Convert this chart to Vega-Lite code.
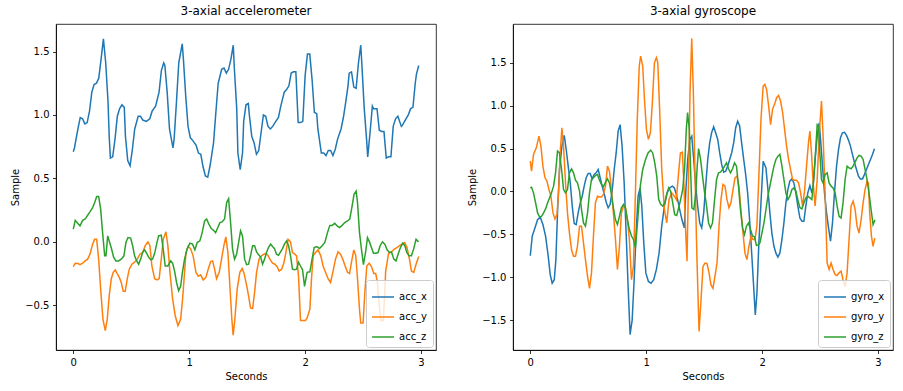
{
"$schema": "https://vega.github.io/schema/vega-lite/v6.json",
"background": "white",
"padding": {"left": 10, "top": 4, "right": 5, "bottom": 5},
"bounds": "flush",
"spacing": 77,
"config": {
  "font": "DejaVu Sans",
  "view": {"stroke": "#000", "strokeWidth": 0.8},
  "axis": {"grid": false, "domainColor": "#000", "domainWidth": 0.8, "tickColor": "#000", "tickWidth": 0.8, "tickSize": 3.5, "labelPadding": 3.5, "labelColor": "#000", "labelFontSize": 10, "titleColor": "#000", "titleFontSize": 10, "titleFontWeight": "normal", "titlePadding": 4},
  "title": {"fontSize": 12, "fontWeight": "normal", "color": "#000", "offset": 6},
  "legend": {"orient": "bottom-right", "offset": 3, "fillColor": "rgba(255,255,255,0.8)", "strokeColor": "#cccccc", "cornerRadius": 3, "padding": 5, "symbolType": "stroke", "symbolStrokeWidth": 1.5, "symbolSize": 484, "labelFontSize": 10, "labelColor": "#000", "rowPadding": 3}
},
"resolve": {"scale": {"color": "independent", "x": "independent", "y": "independent"}},
"hconcat": [
{
  "title": "3-axial accelerometer",
  "width": 380, "height": 326,
  "data": {"values": [
{"t":0,"v":0.71,"s":"acc_x"},{"t":0.01,"v":0.74,"s":"acc_x"},{"t":0.04,"v":0.89,"s":"acc_x"},{"t":0.06,"v":0.98,"s":"acc_x"},{"t":0.08,"v":0.97,"s":"acc_x"},{"t":0.1,"v":0.93,"s":"acc_x"},{"t":0.12,"v":0.94,"s":"acc_x"},{"t":0.14,"v":1.03,"s":"acc_x"},{"t":0.16,"v":1.18,"s":"acc_x"},{"t":0.18,"v":1.24,"s":"acc_x"},{"t":0.2,"v":1.25,"s":"acc_x"},{"t":0.22,"v":1.29,"s":"acc_x"},{"t":0.24,"v":1.44,"s":"acc_x"},{"t":0.26,"v":1.6,"s":"acc_x"},{"t":0.28,"v":1.41,"s":"acc_x"},{"t":0.3,"v":1.1,"s":"acc_x"},{"t":0.31,"v":0.83,"s":"acc_x"},{"t":0.32,"v":0.66,"s":"acc_x"},{"t":0.34,"v":0.67,"s":"acc_x"},{"t":0.36,"v":0.81,"s":"acc_x"},{"t":0.38,"v":0.99,"s":"acc_x"},{"t":0.4,"v":1.05,"s":"acc_x"},{"t":0.42,"v":1.08,"s":"acc_x"},{"t":0.44,"v":1.06,"s":"acc_x"},{"t":0.45,"v":0.83,"s":"acc_x"},{"t":0.47,"v":0.64,"s":"acc_x"},{"t":0.49,"v":0.6,"s":"acc_x"},{"t":0.51,"v":0.73,"s":"acc_x"},{"t":0.53,"v":0.89,"s":"acc_x"},{"t":0.56,"v":0.99,"s":"acc_x"},{"t":0.58,"v":0.99,"s":"acc_x"},{"t":0.6,"v":0.96,"s":"acc_x"},{"t":0.63,"v":0.95,"s":"acc_x"},{"t":0.66,"v":0.97,"s":"acc_x"},{"t":0.68,"v":1.03,"s":"acc_x"},{"t":0.71,"v":1.07,"s":"acc_x"},{"t":0.74,"v":1.18,"s":"acc_x"},{"t":0.76,"v":1.35,"s":"acc_x"},{"t":0.78,"v":1.41,"s":"acc_x"},{"t":0.79,"v":1.39,"s":"acc_x"},{"t":0.81,"v":1.18,"s":"acc_x"},{"t":0.83,"v":0.89,"s":"acc_x"},{"t":0.86,"v":0.74,"s":"acc_x"},{"t":0.87,"v":0.81,"s":"acc_x"},{"t":0.89,"v":1.1,"s":"acc_x"},{"t":0.91,"v":1.41,"s":"acc_x"},{"t":0.94,"v":1.56,"s":"acc_x"},{"t":0.95,"v":1.44,"s":"acc_x"},{"t":0.97,"v":1.15,"s":"acc_x"},{"t":0.99,"v":0.91,"s":"acc_x"},{"t":1.01,"v":0.82,"s":"acc_x"},{"t":1.03,"v":0.8,"s":"acc_x"},{"t":1.06,"v":0.76,"s":"acc_x"},{"t":1.08,"v":0.7,"s":"acc_x"},{"t":1.1,"v":0.69,"s":"acc_x"},{"t":1.12,"v":0.59,"s":"acc_x"},{"t":1.14,"v":0.52,"s":"acc_x"},{"t":1.16,"v":0.51,"s":"acc_x"},{"t":1.18,"v":0.6,"s":"acc_x"},{"t":1.21,"v":0.78,"s":"acc_x"},{"t":1.23,"v":1.02,"s":"acc_x"},{"t":1.25,"v":1.25,"s":"acc_x"},{"t":1.28,"v":1.36,"s":"acc_x"},{"t":1.3,"v":1.37,"s":"acc_x"},{"t":1.32,"v":1.33,"s":"acc_x"},{"t":1.34,"v":1.36,"s":"acc_x"},{"t":1.36,"v":1.44,"s":"acc_x"},{"t":1.38,"v":1.55,"s":"acc_x"},{"t":1.39,"v":1.36,"s":"acc_x"},{"t":1.41,"v":1.05,"s":"acc_x"},{"t":1.42,"v":0.7,"s":"acc_x"},{"t":1.44,"v":0.57,"s":"acc_x"},{"t":1.46,"v":0.7,"s":"acc_x"},{"t":1.47,"v":0.95,"s":"acc_x"},{"t":1.49,"v":1.08,"s":"acc_x"},{"t":1.51,"v":1.09,"s":"acc_x"},{"t":1.52,"v":0.99,"s":"acc_x"},{"t":1.54,"v":0.83,"s":"acc_x"},{"t":1.56,"v":0.78,"s":"acc_x"},{"t":1.58,"v":0.69,"s":"acc_x"},{"t":1.6,"v":0.72,"s":"acc_x"},{"t":1.62,"v":0.86,"s":"acc_x"},{"t":1.64,"v":1.0,"s":"acc_x"},{"t":1.66,"v":0.99,"s":"acc_x"},{"t":1.68,"v":0.91,"s":"acc_x"},{"t":1.7,"v":0.89,"s":"acc_x"},{"t":1.72,"v":0.91,"s":"acc_x"},{"t":1.74,"v":0.94,"s":"acc_x"},{"t":1.77,"v":0.98,"s":"acc_x"},{"t":1.79,"v":1.07,"s":"acc_x"},{"t":1.82,"v":1.18,"s":"acc_x"},{"t":1.84,"v":1.2,"s":"acc_x"},{"t":1.86,"v":1.23,"s":"acc_x"},{"t":1.88,"v":1.33,"s":"acc_x"},{"t":1.9,"v":1.34,"s":"acc_x"},{"t":1.92,"v":1.34,"s":"acc_x"},{"t":1.94,"v":0.94,"s":"acc_x"},{"t":1.96,"v":0.94,"s":"acc_x"},{"t":1.98,"v":0.95,"s":"acc_x"},{"t":2.0,"v":1.31,"s":"acc_x"},{"t":2.02,"v":1.48,"s":"acc_x"},{"t":2.04,"v":1.48,"s":"acc_x"},{"t":2.06,"v":1.28,"s":"acc_x"},{"t":2.08,"v":1.02,"s":"acc_x"},{"t":2.1,"v":1.01,"s":"acc_x"},{"t":2.11,"v":0.89,"s":"acc_x"},{"t":2.14,"v":0.7,"s":"acc_x"},{"t":2.16,"v":0.7,"s":"acc_x"},{"t":2.18,"v":0.68,"s":"acc_x"},{"t":2.2,"v":0.72,"s":"acc_x"},{"t":2.22,"v":0.72,"s":"acc_x"},{"t":2.24,"v":0.68,"s":"acc_x"},{"t":2.26,"v":0.73,"s":"acc_x"},{"t":2.28,"v":0.81,"s":"acc_x"},{"t":2.31,"v":0.89,"s":"acc_x"},{"t":2.33,"v":0.98,"s":"acc_x"},{"t":2.35,"v":1.1,"s":"acc_x"},{"t":2.37,"v":1.23,"s":"acc_x"},{"t":2.38,"v":1.33,"s":"acc_x"},{"t":2.4,"v":1.34,"s":"acc_x"},{"t":2.42,"v":1.22,"s":"acc_x"},{"t":2.44,"v":1.21,"s":"acc_x"},{"t":2.46,"v":1.41,"s":"acc_x"},{"t":2.48,"v":1.55,"s":"acc_x"},{"t":2.49,"v":1.39,"s":"acc_x"},{"t":2.51,"v":1.05,"s":"acc_x"},{"t":2.53,"v":0.81,"s":"acc_x"},{"t":2.54,"v":0.67,"s":"acc_x"},{"t":2.56,"v":0.86,"s":"acc_x"},{"t":2.58,"v":1.07,"s":"acc_x"},{"t":2.59,"v":1.05,"s":"acc_x"},{"t":2.62,"v":1.05,"s":"acc_x"},{"t":2.64,"v":0.88,"s":"acc_x"},{"t":2.66,"v":0.87,"s":"acc_x"},{"t":2.68,"v":0.87,"s":"acc_x"},{"t":2.7,"v":0.66,"s":"acc_x"},{"t":2.72,"v":0.67,"s":"acc_x"},{"t":2.74,"v":0.67,"s":"acc_x"},{"t":2.76,"v":0.91,"s":"acc_x"},{"t":2.78,"v":0.97,"s":"acc_x"},{"t":2.8,"v":0.99,"s":"acc_x"},{"t":2.83,"v":0.91,"s":"acc_x"},{"t":2.84,"v":0.92,"s":"acc_x"},{"t":2.87,"v":0.97,"s":"acc_x"},{"t":2.89,"v":1.0,"s":"acc_x"},{"t":2.91,"v":1.05,"s":"acc_x"},{"t":2.93,"v":1.06,"s":"acc_x"},{"t":2.95,"v":1.25,"s":"acc_x"},{"t":2.96,"v":1.32,"s":"acc_x"},{"t":2.98,"v":1.39,"s":"acc_x"},
{"t":0,"v":-0.195,"s":"acc_y"},{"t":0.015,"v":-0.17,"s":"acc_y"},{"t":0.035,"v":-0.168,"s":"acc_y"},{"t":0.058,"v":-0.18,"s":"acc_y"},{"t":0.081,"v":-0.168,"s":"acc_y"},{"t":0.103,"v":-0.15,"s":"acc_y"},{"t":0.124,"v":-0.136,"s":"acc_y"},{"t":0.144,"v":-0.097,"s":"acc_y"},{"t":0.167,"v":-0.018,"s":"acc_y"},{"t":0.184,"v":0.02,"s":"acc_y"},{"t":0.202,"v":0.02,"s":"acc_y"},{"t":0.219,"v":-0.136,"s":"acc_y"},{"t":0.236,"v":-0.37,"s":"acc_y"},{"t":0.256,"v":-0.61,"s":"acc_y"},{"t":0.276,"v":-0.7,"s":"acc_y"},{"t":0.293,"v":-0.61,"s":"acc_y"},{"t":0.31,"v":-0.425,"s":"acc_y"},{"t":0.328,"v":-0.29,"s":"acc_y"},{"t":0.345,"v":-0.24,"s":"acc_y"},{"t":0.362,"v":-0.22,"s":"acc_y"},{"t":0.379,"v":-0.25,"s":"acc_y"},{"t":0.397,"v":-0.28,"s":"acc_y"},{"t":0.414,"v":-0.32,"s":"acc_y"},{"t":0.431,"v":-0.39,"s":"acc_y"},{"t":0.448,"v":-0.39,"s":"acc_y"},{"t":0.466,"v":-0.29,"s":"acc_y"},{"t":0.483,"v":-0.215,"s":"acc_y"},{"t":0.506,"v":-0.176,"s":"acc_y"},{"t":0.529,"v":-0.16,"s":"acc_y"},{"t":0.552,"v":-0.136,"s":"acc_y"},{"t":0.575,"v":-0.097,"s":"acc_y"},{"t":0.598,"v":-0.084,"s":"acc_y"},{"t":0.621,"v":-0.03,"s":"acc_y"},{"t":0.644,"v":0.0,"s":"acc_y"},{"t":0.661,"v":-0.03,"s":"acc_y"},{"t":0.678,"v":-0.19,"s":"acc_y"},{"t":0.702,"v":-0.29,"s":"acc_y"},{"t":0.724,"v":-0.3,"s":"acc_y"},{"t":0.741,"v":-0.29,"s":"acc_y"},{"t":0.759,"v":-0.136,"s":"acc_y"},{"t":0.776,"v":0.02,"s":"acc_y"},{"t":0.799,"v":0.08,"s":"acc_y"},{"t":0.816,"v":-0.03,"s":"acc_y"},{"t":0.834,"v":-0.24,"s":"acc_y"},{"t":0.857,"v":-0.45,"s":"acc_y"},{"t":0.879,"v":-0.58,"s":"acc_y"},{"t":0.903,"v":-0.66,"s":"acc_y"},{"t":0.926,"v":-0.61,"s":"acc_y"},{"t":0.943,"v":-0.45,"s":"acc_y"},{"t":0.96,"v":-0.24,"s":"acc_y"},{"t":0.972,"v":-0.084,"s":"acc_y"},{"t":0.991,"v":-0.037,"s":"acc_y"},{"t":1.012,"v":-0.053,"s":"acc_y"},{"t":1.034,"v":-0.11,"s":"acc_y"},{"t":1.058,"v":-0.24,"s":"acc_y"},{"t":1.078,"v":-0.27,"s":"acc_y"},{"t":1.098,"v":-0.26,"s":"acc_y"},{"t":1.121,"v":-0.3,"s":"acc_y"},{"t":1.144,"v":-0.28,"s":"acc_y"},{"t":1.164,"v":-0.215,"s":"acc_y"},{"t":1.184,"v":-0.157,"s":"acc_y"},{"t":1.202,"v":-0.15,"s":"acc_y"},{"t":1.219,"v":-0.215,"s":"acc_y"},{"t":1.236,"v":-0.29,"s":"acc_y"},{"t":1.259,"v":-0.24,"s":"acc_y"},{"t":1.279,"v":-0.136,"s":"acc_y"},{"t":1.299,"v":-0.03,"s":"acc_y"},{"t":1.316,"v":0.04,"s":"acc_y"},{"t":1.334,"v":-0.084,"s":"acc_y"},{"t":1.351,"v":-0.35,"s":"acc_y"},{"t":1.368,"v":-0.61,"s":"acc_y"},{"t":1.379,"v":-0.735,"s":"acc_y"},{"t":1.394,"v":-0.61,"s":"acc_y"},{"t":1.414,"v":-0.37,"s":"acc_y"},{"t":1.437,"v":-0.24,"s":"acc_y"},{"t":1.457,"v":-0.21,"s":"acc_y"},{"t":1.474,"v":-0.25,"s":"acc_y"},{"t":1.495,"v":-0.34,"s":"acc_y"},{"t":1.512,"v":-0.425,"s":"acc_y"},{"t":1.529,"v":-0.52,"s":"acc_y"},{"t":1.547,"v":-0.525,"s":"acc_y"},{"t":1.564,"v":-0.4,"s":"acc_y"},{"t":1.581,"v":-0.24,"s":"acc_y"},{"t":1.603,"v":-0.136,"s":"acc_y"},{"t":1.624,"v":-0.11,"s":"acc_y"},{"t":1.644,"v":-0.097,"s":"acc_y"},{"t":1.661,"v":-0.092,"s":"acc_y"},{"t":1.678,"v":-0.105,"s":"acc_y"},{"t":1.696,"v":-0.136,"s":"acc_y"},{"t":1.719,"v":-0.168,"s":"acc_y"},{"t":1.739,"v":-0.176,"s":"acc_y"},{"t":1.759,"v":-0.195,"s":"acc_y"},{"t":1.776,"v":-0.23,"s":"acc_y"},{"t":1.797,"v":-0.215,"s":"acc_y"},{"t":1.816,"v":-0.168,"s":"acc_y"},{"t":1.834,"v":-0.084,"s":"acc_y"},{"t":1.853,"v":0.02,"s":"acc_y"},{"t":1.874,"v":0.0,"s":"acc_y"},{"t":1.891,"v":-0.084,"s":"acc_y"},{"t":1.911,"v":-0.097,"s":"acc_y"},{"t":1.926,"v":-0.11,"s":"acc_y"},{"t":1.943,"v":-0.27,"s":"acc_y"},{"t":1.96,"v":-0.62,"s":"acc_y"},{"t":1.983,"v":-0.62,"s":"acc_y"},{"t":2.003,"v":-0.62,"s":"acc_y"},{"t":2.017,"v":-0.6,"s":"acc_y"},{"t":2.041,"v":-0.53,"s":"acc_y"},{"t":2.055,"v":-0.29,"s":"acc_y"},{"t":2.069,"v":-0.11,"s":"acc_y"},{"t":2.09,"v":-0.084,"s":"acc_y"},{"t":2.112,"v":-0.063,"s":"acc_y"},{"t":2.135,"v":-0.11,"s":"acc_y"},{"t":2.155,"v":-0.19,"s":"acc_y"},{"t":2.176,"v":-0.24,"s":"acc_y"},{"t":2.198,"v":-0.29,"s":"acc_y"},{"t":2.219,"v":-0.32,"s":"acc_y"},{"t":2.239,"v":-0.24,"s":"acc_y"},{"t":2.262,"v":-0.136,"s":"acc_y"},{"t":2.284,"v":-0.079,"s":"acc_y"},{"t":2.305,"v":-0.097,"s":"acc_y"},{"t":2.325,"v":-0.136,"s":"acc_y"},{"t":2.345,"v":-0.19,"s":"acc_y"},{"t":2.366,"v":-0.24,"s":"acc_y"},{"t":2.383,"v":-0.25,"s":"acc_y"},{"t":2.4,"v":-0.16,"s":"acc_y"},{"t":2.42,"v":-0.063,"s":"acc_y"},{"t":2.437,"v":-0.11,"s":"acc_y"},{"t":2.452,"v":-0.29,"s":"acc_y"},{"t":2.469,"v":-0.53,"s":"acc_y"},{"t":2.48,"v":-0.64,"s":"acc_y"},{"t":2.5,"v":-0.64,"s":"acc_y"},{"t":2.515,"v":-0.4,"s":"acc_y"},{"t":2.532,"v":-0.19,"s":"acc_y"},{"t":2.552,"v":-0.168,"s":"acc_y"},{"t":2.572,"v":-0.195,"s":"acc_y"},{"t":2.592,"v":-0.25,"s":"acc_y"},{"t":2.609,"v":-0.25,"s":"acc_y"},{"t":2.624,"v":-0.32,"s":"acc_y"},{"t":2.635,"v":-0.45,"s":"acc_y"},{"t":2.653,"v":-0.62,"s":"acc_y"},{"t":2.675,"v":-0.62,"s":"acc_y"},{"t":2.695,"v":-0.23,"s":"acc_y"},{"t":2.72,"v":-0.09,"s":"acc_y"},{"t":2.745,"v":-0.079,"s":"acc_y"},{"t":2.767,"v":-0.058,"s":"acc_y"},{"t":2.791,"v":-0.045,"s":"acc_y"},{"t":2.814,"v":-0.03,"s":"acc_y"},{"t":2.836,"v":-0.018,"s":"acc_y"},{"t":2.859,"v":-0.005,"s":"acc_y"},{"t":2.879,"v":-0.045,"s":"acc_y"},{"t":2.9,"v":-0.136,"s":"acc_y"},{"t":2.917,"v":-0.23,"s":"acc_y"},{"t":2.937,"v":-0.24,"s":"acc_y"},{"t":2.957,"v":-0.176,"s":"acc_y"},{"t":2.98,"v":-0.115,"s":"acc_y"},
{"t":0,"v":0.1,"s":"acc_z"},{"t":0.017,"v":0.17,"s":"acc_z"},{"t":0.038,"v":0.147,"s":"acc_z"},{"t":0.058,"v":0.126,"s":"acc_z"},{"t":0.081,"v":0.17,"s":"acc_z"},{"t":0.103,"v":0.18,"s":"acc_z"},{"t":0.124,"v":0.21,"s":"acc_z"},{"t":0.144,"v":0.236,"s":"acc_z"},{"t":0.167,"v":0.27,"s":"acc_z"},{"t":0.185,"v":0.31,"s":"acc_z"},{"t":0.202,"v":0.357,"s":"acc_z"},{"t":0.219,"v":0.357,"s":"acc_z"},{"t":0.236,"v":0.26,"s":"acc_z"},{"t":0.253,"v":0.073,"s":"acc_z"},{"t":0.271,"v":-0.11,"s":"acc_z"},{"t":0.282,"v":-0.11,"s":"acc_z"},{"t":0.297,"v":0.047,"s":"acc_z"},{"t":0.314,"v":-0.005,"s":"acc_z"},{"t":0.331,"v":-0.058,"s":"acc_z"},{"t":0.348,"v":-0.12,"s":"acc_z"},{"t":0.368,"v":-0.15,"s":"acc_z"},{"t":0.391,"v":-0.15,"s":"acc_z"},{"t":0.414,"v":-0.136,"s":"acc_z"},{"t":0.437,"v":-0.11,"s":"acc_z"},{"t":0.454,"v":-0.005,"s":"acc_z"},{"t":0.472,"v":0.034,"s":"acc_z"},{"t":0.495,"v":0.03,"s":"acc_z"},{"t":0.512,"v":-0.03,"s":"acc_z"},{"t":0.529,"v":-0.11,"s":"acc_z"},{"t":0.547,"v":-0.15,"s":"acc_z"},{"t":0.564,"v":-0.176,"s":"acc_z"},{"t":0.581,"v":-0.136,"s":"acc_z"},{"t":0.598,"v":-0.084,"s":"acc_z"},{"t":0.616,"v":-0.063,"s":"acc_z"},{"t":0.633,"v":-0.09,"s":"acc_z"},{"t":0.65,"v":-0.12,"s":"acc_z"},{"t":0.667,"v":-0.14,"s":"acc_z"},{"t":0.684,"v":-0.136,"s":"acc_z"},{"t":0.702,"v":-0.09,"s":"acc_z"},{"t":0.719,"v":-0.018,"s":"acc_z"},{"t":0.736,"v":0.047,"s":"acc_z"},{"t":0.759,"v":0.053,"s":"acc_z"},{"t":0.776,"v":-0.058,"s":"acc_z"},{"t":0.793,"v":-0.19,"s":"acc_z"},{"t":0.816,"v":-0.19,"s":"acc_z"},{"t":0.84,"v":-0.15,"s":"acc_z"},{"t":0.857,"v":-0.168,"s":"acc_z"},{"t":0.874,"v":-0.23,"s":"acc_z"},{"t":0.891,"v":-0.32,"s":"acc_z"},{"t":0.909,"v":-0.385,"s":"acc_z"},{"t":0.926,"v":-0.35,"s":"acc_z"},{"t":0.943,"v":-0.23,"s":"acc_z"},{"t":0.96,"v":-0.136,"s":"acc_z"},{"t":0.983,"v":-0.053,"s":"acc_z"},{"t":1.006,"v":-0.01,"s":"acc_z"},{"t":1.029,"v":-0.018,"s":"acc_z"},{"t":1.049,"v":-0.063,"s":"acc_z"},{"t":1.069,"v":-0.005,"s":"acc_z"},{"t":1.092,"v":0.008,"s":"acc_z"},{"t":1.112,"v":0.073,"s":"acc_z"},{"t":1.133,"v":0.165,"s":"acc_z"},{"t":1.15,"v":0.18,"s":"acc_z"},{"t":1.17,"v":0.14,"s":"acc_z"},{"t":1.19,"v":0.105,"s":"acc_z"},{"t":1.207,"v":0.094,"s":"acc_z"},{"t":1.228,"v":0.073,"s":"acc_z"},{"t":1.247,"v":0.113,"s":"acc_z"},{"t":1.265,"v":0.152,"s":"acc_z"},{"t":1.284,"v":0.157,"s":"acc_z"},{"t":1.305,"v":0.18,"s":"acc_z"},{"t":1.323,"v":0.31,"s":"acc_z"},{"t":1.34,"v":0.34,"s":"acc_z"},{"t":1.357,"v":0.152,"s":"acc_z"},{"t":1.374,"v":-0.058,"s":"acc_z"},{"t":1.391,"v":-0.136,"s":"acc_z"},{"t":1.409,"v":-0.097,"s":"acc_z"},{"t":1.426,"v":-0.005,"s":"acc_z"},{"t":1.443,"v":0.087,"s":"acc_z"},{"t":1.46,"v":0.047,"s":"acc_z"},{"t":1.478,"v":-0.136,"s":"acc_z"},{"t":1.495,"v":-0.18,"s":"acc_z"},{"t":1.512,"v":-0.176,"s":"acc_z"},{"t":1.529,"v":-0.11,"s":"acc_z"},{"t":1.547,"v":-0.03,"s":"acc_z"},{"t":1.564,"v":-0.03,"s":"acc_z"},{"t":1.581,"v":-0.079,"s":"acc_z"},{"t":1.598,"v":-0.1,"s":"acc_z"},{"t":1.616,"v":-0.12,"s":"acc_z"},{"t":1.633,"v":-0.176,"s":"acc_z"},{"t":1.65,"v":-0.136,"s":"acc_z"},{"t":1.667,"v":-0.084,"s":"acc_z"},{"t":1.684,"v":-0.045,"s":"acc_z"},{"t":1.702,"v":-0.018,"s":"acc_z"},{"t":1.719,"v":-0.037,"s":"acc_z"},{"t":1.736,"v":-0.053,"s":"acc_z"},{"t":1.753,"v":-0.097,"s":"acc_z"},{"t":1.771,"v":-0.105,"s":"acc_z"},{"t":1.788,"v":-0.079,"s":"acc_z"},{"t":1.805,"v":-0.053,"s":"acc_z"},{"t":1.822,"v":-0.018,"s":"acc_z"},{"t":1.84,"v":0.008,"s":"acc_z"},{"t":1.857,"v":-0.03,"s":"acc_z"},{"t":1.874,"v":-0.11,"s":"acc_z"},{"t":1.891,"v":-0.215,"s":"acc_z"},{"t":1.909,"v":-0.22,"s":"acc_z"},{"t":1.926,"v":-0.215,"s":"acc_z"},{"t":1.943,"v":-0.16,"s":"acc_z"},{"t":1.96,"v":-0.19,"s":"acc_z"},{"t":1.978,"v":-0.22,"s":"acc_z"},{"t":1.995,"v":-0.35,"s":"acc_z"},{"t":2.017,"v":-0.24,"s":"acc_z"},{"t":2.041,"v":-0.236,"s":"acc_z"},{"t":2.06,"v":-0.136,"s":"acc_z"},{"t":2.078,"v":-0.045,"s":"acc_z"},{"t":2.101,"v":-0.037,"s":"acc_z"},{"t":2.124,"v":-0.053,"s":"acc_z"},{"t":2.147,"v":-0.03,"s":"acc_z"},{"t":2.17,"v":-0.005,"s":"acc_z"},{"t":2.193,"v":0.073,"s":"acc_z"},{"t":2.213,"v":0.13,"s":"acc_z"},{"t":2.233,"v":0.13,"s":"acc_z"},{"t":2.256,"v":0.147,"s":"acc_z"},{"t":2.276,"v":0.126,"s":"acc_z"},{"t":2.297,"v":0.113,"s":"acc_z"},{"t":2.319,"v":0.13,"s":"acc_z"},{"t":2.342,"v":0.152,"s":"acc_z"},{"t":2.366,"v":0.165,"s":"acc_z"},{"t":2.385,"v":0.18,"s":"acc_z"},{"t":2.405,"v":0.28,"s":"acc_z"},{"t":2.422,"v":0.375,"s":"acc_z"},{"t":2.44,"v":0.4,"s":"acc_z"},{"t":2.452,"v":0.31,"s":"acc_z"},{"t":2.469,"v":0.073,"s":"acc_z"},{"t":2.486,"v":-0.058,"s":"acc_z"},{"t":2.503,"v":-0.18,"s":"acc_z"},{"t":2.521,"v":-0.084,"s":"acc_z"},{"t":2.538,"v":0.034,"s":"acc_z"},{"t":2.555,"v":0.0,"s":"acc_z"},{"t":2.572,"v":-0.045,"s":"acc_z"},{"t":2.59,"v":-0.09,"s":"acc_z"},{"t":2.609,"v":-0.09,"s":"acc_z"},{"t":2.629,"v":-0.084,"s":"acc_z"},{"t":2.647,"v":-0.03,"s":"acc_z"},{"t":2.667,"v":0.0,"s":"acc_z"},{"t":2.688,"v":-0.018,"s":"acc_z"},{"t":2.707,"v":-0.063,"s":"acc_z"},{"t":2.728,"v":-0.084,"s":"acc_z"},{"t":2.745,"v":-0.079,"s":"acc_z"},{"t":2.765,"v":-0.136,"s":"acc_z"},{"t":2.784,"v":-0.15,"s":"acc_z"},{"t":2.802,"v":-0.097,"s":"acc_z"},{"t":2.822,"v":-0.045,"s":"acc_z"},{"t":2.842,"v":-0.01,"s":"acc_z"},{"t":2.86,"v":-0.03,"s":"acc_z"},{"t":2.877,"v":-0.084,"s":"acc_z"},{"t":2.897,"v":-0.11,"s":"acc_z"},{"t":2.917,"v":-0.11,"s":"acc_z"},{"t":2.937,"v":-0.053,"s":"acc_z"},{"t":2.957,"v":0.02,"s":"acc_z"},{"t":2.978,"v":0.0,"s":"acc_z"}
  ]},
  "mark": {"type": "line", "strokeWidth": 1.5},
  "encoding": {
    "x": {"field": "t", "type": "quantitative", "scale": {"domain": [-0.149, 3.129], "nice": false, "zero": false}, "axis": {"title": "Seconds", "values": [0, 1, 2, 3], "format": "d"}},
    "y": {"field": "v", "type": "quantitative", "scale": {"domain": [-0.852, 1.717], "nice": false, "zero": false}, "axis": {"title": "Sample", "values": [-0.5, 0, 0.5, 1, 1.5], "format": ".1f"}},
    "color": {"field": "s", "type": "nominal", "scale": {"domain": ["acc_x", "acc_y", "acc_z"], "range": ["#1f77b4", "#ff7f0e", "#2ca02c"]}, "legend": {"title": null}}
  }
},
{
  "title": "3-axial gyroscope",
  "width": 380, "height": 326,
  "data": {"values": [
{"t":0,"v":-0.75,"s":"gyro_x"},{"t":0.017,"v":-0.52,"s":"gyro_x"},{"t":0.04,"v":-0.425,"s":"gyro_x"},{"t":0.063,"v":-0.33,"s":"gyro_x"},{"t":0.086,"v":-0.3,"s":"gyro_x"},{"t":0.109,"v":-0.386,"s":"gyro_x"},{"t":0.132,"v":-0.52,"s":"gyro_x"},{"t":0.155,"v":-0.757,"s":"gyro_x"},{"t":0.172,"v":-0.97,"s":"gyro_x"},{"t":0.189,"v":-1.07,"s":"gyro_x"},{"t":0.207,"v":-1.03,"s":"gyro_x"},{"t":0.221,"v":-0.795,"s":"gyro_x"},{"t":0.235,"v":-0.25,"s":"gyro_x"},{"t":0.252,"v":0.257,"s":"gyro_x"},{"t":0.273,"v":0.53,"s":"gyro_x"},{"t":0.293,"v":0.655,"s":"gyro_x"},{"t":0.31,"v":0.49,"s":"gyro_x"},{"t":0.327,"v":0.296,"s":"gyro_x"},{"t":0.345,"v":0.1,"s":"gyro_x"},{"t":0.362,"v":-0.17,"s":"gyro_x"},{"t":0.379,"v":-0.375,"s":"gyro_x"},{"t":0.396,"v":-0.386,"s":"gyro_x"},{"t":0.413,"v":-0.25,"s":"gyro_x"},{"t":0.431,"v":-0.133,"s":"gyro_x"},{"t":0.448,"v":-0.055,"s":"gyro_x"},{"t":0.465,"v":0.062,"s":"gyro_x"},{"t":0.482,"v":0.16,"s":"gyro_x"},{"t":0.5,"v":0.21,"s":"gyro_x"},{"t":0.517,"v":0.21,"s":"gyro_x"},{"t":0.534,"v":0.147,"s":"gyro_x"},{"t":0.551,"v":0.2,"s":"gyro_x"},{"t":0.568,"v":0.218,"s":"gyro_x"},{"t":0.586,"v":0.257,"s":"gyro_x"},{"t":0.603,"v":0.16,"s":"gyro_x"},{"t":0.62,"v":0.062,"s":"gyro_x"},{"t":0.637,"v":-0.023,"s":"gyro_x"},{"t":0.655,"v":-0.125,"s":"gyro_x"},{"t":0.672,"v":-0.19,"s":"gyro_x"},{"t":0.689,"v":-0.15,"s":"gyro_x"},{"t":0.706,"v":0.0,"s":"gyro_x"},{"t":0.724,"v":0.257,"s":"gyro_x"},{"t":0.741,"v":0.45,"s":"gyro_x"},{"t":0.758,"v":0.705,"s":"gyro_x"},{"t":0.775,"v":0.78,"s":"gyro_x"},{"t":0.792,"v":0.53,"s":"gyro_x"},{"t":0.81,"v":0.1,"s":"gyro_x"},{"t":0.827,"v":-0.485,"s":"gyro_x"},{"t":0.844,"v":-1.11,"s":"gyro_x"},{"t":0.861,"v":-1.67,"s":"gyro_x"},{"t":0.879,"v":-1.5,"s":"gyro_x"},{"t":0.896,"v":-1.03,"s":"gyro_x"},{"t":0.913,"v":-0.485,"s":"gyro_x"},{"t":0.93,"v":-0.055,"s":"gyro_x"},{"t":0.947,"v":0.04,"s":"gyro_x"},{"t":0.962,"v":-0.17,"s":"gyro_x"},{"t":0.979,"v":-0.6,"s":"gyro_x"},{"t":0.997,"v":-0.95,"s":"gyro_x"},{"t":1.019,"v":-1.05,"s":"gyro_x"},{"t":1.042,"v":-1.07,"s":"gyro_x"},{"t":1.065,"v":-1.03,"s":"gyro_x"},{"t":1.088,"v":-0.91,"s":"gyro_x"},{"t":1.111,"v":-0.72,"s":"gyro_x"},{"t":1.134,"v":-0.405,"s":"gyro_x"},{"t":1.157,"v":-0.17,"s":"gyro_x"},{"t":1.18,"v":-0.016,"s":"gyro_x"},{"t":1.203,"v":0.042,"s":"gyro_x"},{"t":1.226,"v":0.062,"s":"gyro_x"},{"t":1.243,"v":0.042,"s":"gyro_x"},{"t":1.26,"v":-0.035,"s":"gyro_x"},{"t":1.277,"v":-0.133,"s":"gyro_x"},{"t":1.295,"v":-0.25,"s":"gyro_x"},{"t":1.312,"v":-0.347,"s":"gyro_x"},{"t":1.329,"v":-0.425,"s":"gyro_x"},{"t":1.341,"v":-0.016,"s":"gyro_x"},{"t":1.358,"v":0.374,"s":"gyro_x"},{"t":1.376,"v":0.608,"s":"gyro_x"},{"t":1.393,"v":0.647,"s":"gyro_x"},{"t":1.41,"v":0.374,"s":"gyro_x"},{"t":1.427,"v":0.062,"s":"gyro_x"},{"t":1.444,"v":-0.17,"s":"gyro_x"},{"t":1.462,"v":-0.367,"s":"gyro_x"},{"t":1.479,"v":-0.425,"s":"gyro_x"},{"t":1.496,"v":-0.25,"s":"gyro_x"},{"t":1.513,"v":0.062,"s":"gyro_x"},{"t":1.531,"v":0.374,"s":"gyro_x"},{"t":1.548,"v":0.57,"s":"gyro_x"},{"t":1.565,"v":0.69,"s":"gyro_x"},{"t":1.582,"v":0.755,"s":"gyro_x"},{"t":1.599,"v":0.685,"s":"gyro_x"},{"t":1.617,"v":0.608,"s":"gyro_x"},{"t":1.634,"v":0.45,"s":"gyro_x"},{"t":1.651,"v":0.316,"s":"gyro_x"},{"t":1.668,"v":0.226,"s":"gyro_x"},{"t":1.686,"v":0.237,"s":"gyro_x"},{"t":1.703,"v":0.296,"s":"gyro_x"},{"t":1.72,"v":0.374,"s":"gyro_x"},{"t":1.737,"v":0.45,"s":"gyro_x"},{"t":1.755,"v":0.57,"s":"gyro_x"},{"t":1.772,"v":0.744,"s":"gyro_x"},{"t":1.789,"v":0.82,"s":"gyro_x"},{"t":1.806,"v":0.764,"s":"gyro_x"},{"t":1.823,"v":0.57,"s":"gyro_x"},{"t":1.841,"v":0.374,"s":"gyro_x"},{"t":1.858,"v":0.199,"s":"gyro_x"},{"t":1.875,"v":-0.016,"s":"gyro_x"},{"t":1.892,"v":-0.33,"s":"gyro_x"},{"t":1.91,"v":-0.72,"s":"gyro_x"},{"t":1.927,"v":-1.11,"s":"gyro_x"},{"t":1.941,"v":-1.44,"s":"gyro_x"},{"t":1.955,"v":-1.19,"s":"gyro_x"},{"t":1.972,"v":-0.6,"s":"gyro_x"},{"t":1.99,"v":-0.133,"s":"gyro_x"},{"t":2.009,"v":0.354,"s":"gyro_x"},{"t":2.033,"v":0.276,"s":"gyro_x"},{"t":2.05,"v":0.023,"s":"gyro_x"},{"t":2.067,"v":-0.25,"s":"gyro_x"},{"t":2.084,"v":-0.485,"s":"gyro_x"},{"t":2.102,"v":-0.64,"s":"gyro_x"},{"t":2.119,"v":-0.72,"s":"gyro_x"},{"t":2.136,"v":-0.765,"s":"gyro_x"},{"t":2.153,"v":-0.72,"s":"gyro_x"},{"t":2.171,"v":-0.56,"s":"gyro_x"},{"t":2.188,"v":-0.367,"s":"gyro_x"},{"t":2.205,"v":-0.133,"s":"gyro_x"},{"t":2.222,"v":0.023,"s":"gyro_x"},{"t":2.239,"v":0.12,"s":"gyro_x"},{"t":2.257,"v":0.147,"s":"gyro_x"},{"t":2.274,"v":0.1,"s":"gyro_x"},{"t":2.291,"v":-0.016,"s":"gyro_x"},{"t":2.308,"v":-0.17,"s":"gyro_x"},{"t":2.326,"v":-0.31,"s":"gyro_x"},{"t":2.343,"v":-0.347,"s":"gyro_x"},{"t":2.36,"v":-0.347,"s":"gyro_x"},{"t":2.377,"v":-0.17,"s":"gyro_x"},{"t":2.394,"v":-0.016,"s":"gyro_x"},{"t":2.412,"v":0.07,"s":"gyro_x"},{"t":2.429,"v":-0.016,"s":"gyro_x"},{"t":2.44,"v":0.062,"s":"gyro_x"},{"t":2.457,"v":0.374,"s":"gyro_x"},{"t":2.475,"v":0.647,"s":"gyro_x"},{"t":2.492,"v":0.8,"s":"gyro_x"},{"t":2.504,"v":0.608,"s":"gyro_x"},{"t":2.521,"v":0.296,"s":"gyro_x"},{"t":2.538,"v":-0.016,"s":"gyro_x"},{"t":2.556,"v":-0.25,"s":"gyro_x"},{"t":2.573,"v":-0.425,"s":"gyro_x"},{"t":2.59,"v":-0.58,"s":"gyro_x"},{"t":2.607,"v":-0.367,"s":"gyro_x"},{"t":2.624,"v":-0.016,"s":"gyro_x"},{"t":2.642,"v":0.296,"s":"gyro_x"},{"t":2.659,"v":0.49,"s":"gyro_x"},{"t":2.676,"v":0.627,"s":"gyro_x"},{"t":2.693,"v":0.685,"s":"gyro_x"},{"t":2.711,"v":0.69,"s":"gyro_x"},{"t":2.728,"v":0.655,"s":"gyro_x"},{"t":2.745,"v":0.6,"s":"gyro_x"},{"t":2.762,"v":0.53,"s":"gyro_x"},{"t":2.779,"v":0.433,"s":"gyro_x"},{"t":2.797,"v":0.335,"s":"gyro_x"},{"t":2.814,"v":0.257,"s":"gyro_x"},{"t":2.831,"v":0.18,"s":"gyro_x"},{"t":2.848,"v":0.147,"s":"gyro_x"},{"t":2.866,"v":0.147,"s":"gyro_x"},{"t":2.883,"v":0.2,"s":"gyro_x"},{"t":2.9,"v":0.257,"s":"gyro_x"},{"t":2.917,"v":0.316,"s":"gyro_x"},{"t":2.935,"v":0.374,"s":"gyro_x"},{"t":2.952,"v":0.433,"s":"gyro_x"},{"t":2.969,"v":0.5,"s":"gyro_x"},
{"t":0,"v":0.354,"s":"gyro_y"},{"t":0.011,"v":0.237,"s":"gyro_y"},{"t":0.028,"v":0.433,"s":"gyro_y"},{"t":0.052,"v":0.51,"s":"gyro_y"},{"t":0.075,"v":0.647,"s":"gyro_y"},{"t":0.092,"v":0.53,"s":"gyro_y"},{"t":0.109,"v":0.296,"s":"gyro_y"},{"t":0.127,"v":0.16,"s":"gyro_y"},{"t":0.144,"v":0.12,"s":"gyro_y"},{"t":0.161,"v":0.023,"s":"gyro_y"},{"t":0.178,"v":-0.055,"s":"gyro_y"},{"t":0.196,"v":-0.25,"s":"gyro_y"},{"t":0.213,"v":-0.32,"s":"gyro_y"},{"t":0.23,"v":-0.27,"s":"gyro_y"},{"t":0.244,"v":-0.016,"s":"gyro_y"},{"t":0.258,"v":0.45,"s":"gyro_y"},{"t":0.273,"v":0.744,"s":"gyro_y"},{"t":0.287,"v":0.53,"s":"gyro_y"},{"t":0.304,"v":0.1,"s":"gyro_y"},{"t":0.321,"v":-0.25,"s":"gyro_y"},{"t":0.338,"v":-0.485,"s":"gyro_y"},{"t":0.356,"v":-0.68,"s":"gyro_y"},{"t":0.373,"v":-0.757,"s":"gyro_y"},{"t":0.39,"v":-0.757,"s":"gyro_y"},{"t":0.407,"v":-0.64,"s":"gyro_y"},{"t":0.425,"v":-0.405,"s":"gyro_y"},{"t":0.442,"v":-0.405,"s":"gyro_y"},{"t":0.459,"v":-0.6,"s":"gyro_y"},{"t":0.476,"v":-0.795,"s":"gyro_y"},{"t":0.494,"v":-0.99,"s":"gyro_y"},{"t":0.511,"v":-1.13,"s":"gyro_y"},{"t":0.528,"v":-0.95,"s":"gyro_y"},{"t":0.545,"v":-0.52,"s":"gyro_y"},{"t":0.562,"v":-0.133,"s":"gyro_y"},{"t":0.58,"v":-0.055,"s":"gyro_y"},{"t":0.597,"v":-0.063,"s":"gyro_y"},{"t":0.614,"v":-0.063,"s":"gyro_y"},{"t":0.631,"v":-0.035,"s":"gyro_y"},{"t":0.649,"v":0.062,"s":"gyro_y"},{"t":0.666,"v":0.296,"s":"gyro_y"},{"t":0.683,"v":0.237,"s":"gyro_y"},{"t":0.7,"v":0.023,"s":"gyro_y"},{"t":0.717,"v":-0.25,"s":"gyro_y"},{"t":0.735,"v":-0.56,"s":"gyro_y"},{"t":0.752,"v":-0.91,"s":"gyro_y"},{"t":0.769,"v":-0.64,"s":"gyro_y"},{"t":0.786,"v":-0.25,"s":"gyro_y"},{"t":0.804,"v":-0.17,"s":"gyro_y"},{"t":0.821,"v":-0.19,"s":"gyro_y"},{"t":0.838,"v":-0.33,"s":"gyro_y"},{"t":0.855,"v":-0.56,"s":"gyro_y"},{"t":0.873,"v":-1.03,"s":"gyro_y"},{"t":0.89,"v":-0.87,"s":"gyro_y"},{"t":0.907,"v":-0.016,"s":"gyro_y"},{"t":0.923,"v":0.84,"s":"gyro_y"},{"t":0.94,"v":1.465,"s":"gyro_y"},{"t":0.952,"v":1.58,"s":"gyro_y"},{"t":0.97,"v":1.465,"s":"gyro_y"},{"t":0.985,"v":1.076,"s":"gyro_y"},{"t":1.002,"v":0.725,"s":"gyro_y"},{"t":1.019,"v":0.608,"s":"gyro_y"},{"t":1.036,"v":0.685,"s":"gyro_y"},{"t":1.053,"v":1.036,"s":"gyro_y"},{"t":1.071,"v":1.504,"s":"gyro_y"},{"t":1.088,"v":1.563,"s":"gyro_y"},{"t":1.1,"v":1.504,"s":"gyro_y"},{"t":1.117,"v":0.92,"s":"gyro_y"},{"t":1.134,"v":0.257,"s":"gyro_y"},{"t":1.157,"v":-0.21,"s":"gyro_y"},{"t":1.177,"v":-0.367,"s":"gyro_y"},{"t":1.197,"v":-0.094,"s":"gyro_y"},{"t":1.22,"v":-0.016,"s":"gyro_y"},{"t":1.243,"v":-0.055,"s":"gyro_y"},{"t":1.26,"v":-0.094,"s":"gyro_y"},{"t":1.277,"v":0.18,"s":"gyro_y"},{"t":1.295,"v":0.45,"s":"gyro_y"},{"t":1.312,"v":0.46,"s":"gyro_y"},{"t":1.326,"v":0.062,"s":"gyro_y"},{"t":1.341,"v":-0.485,"s":"gyro_y"},{"t":1.352,"v":-0.815,"s":"gyro_y"},{"t":1.363,"v":-0.016,"s":"gyro_y"},{"t":1.378,"v":1.153,"s":"gyro_y"},{"t":1.393,"v":1.785,"s":"gyro_y"},{"t":1.407,"v":1.153,"s":"gyro_y"},{"t":1.421,"v":0.18,"s":"gyro_y"},{"t":1.438,"v":-0.795,"s":"gyro_y"},{"t":1.456,"v":-1.634,"s":"gyro_y"},{"t":1.473,"v":-1.263,"s":"gyro_y"},{"t":1.49,"v":-0.874,"s":"gyro_y"},{"t":1.507,"v":-0.835,"s":"gyro_y"},{"t":1.525,"v":-0.842,"s":"gyro_y"},{"t":1.542,"v":-0.95,"s":"gyro_y"},{"t":1.559,"v":-1.09,"s":"gyro_y"},{"t":1.576,"v":-1.13,"s":"gyro_y"},{"t":1.593,"v":-0.99,"s":"gyro_y"},{"t":1.611,"v":-0.835,"s":"gyro_y"},{"t":1.628,"v":-0.405,"s":"gyro_y"},{"t":1.645,"v":-0.094,"s":"gyro_y"},{"t":1.662,"v":0.082,"s":"gyro_y"},{"t":1.68,"v":0.062,"s":"gyro_y"},{"t":1.697,"v":-0.094,"s":"gyro_y"},{"t":1.714,"v":-0.19,"s":"gyro_y"},{"t":1.731,"v":-0.133,"s":"gyro_y"},{"t":1.749,"v":0.023,"s":"gyro_y"},{"t":1.766,"v":0.16,"s":"gyro_y"},{"t":1.783,"v":0.18,"s":"gyro_y"},{"t":1.8,"v":0.062,"s":"gyro_y"},{"t":1.817,"v":-0.21,"s":"gyro_y"},{"t":1.835,"v":-0.485,"s":"gyro_y"},{"t":1.852,"v":-0.72,"s":"gyro_y"},{"t":1.869,"v":-0.795,"s":"gyro_y"},{"t":1.886,"v":-0.64,"s":"gyro_y"},{"t":1.904,"v":-0.52,"s":"gyro_y"},{"t":1.921,"v":-0.56,"s":"gyro_y"},{"t":1.938,"v":-0.56,"s":"gyro_y"},{"t":1.955,"v":-0.405,"s":"gyro_y"},{"t":1.972,"v":0.18,"s":"gyro_y"},{"t":1.99,"v":0.84,"s":"gyro_y"},{"t":2.009,"v":1.23,"s":"gyro_y"},{"t":2.024,"v":1.25,"s":"gyro_y"},{"t":2.039,"v":1.19,"s":"gyro_y"},{"t":2.056,"v":1.0,"s":"gyro_y"},{"t":2.073,"v":0.78,"s":"gyro_y"},{"t":2.09,"v":0.96,"s":"gyro_y"},{"t":2.108,"v":1.02,"s":"gyro_y"},{"t":2.125,"v":1.095,"s":"gyro_y"},{"t":2.142,"v":1.12,"s":"gyro_y"},{"t":2.159,"v":1.056,"s":"gyro_y"},{"t":2.177,"v":0.92,"s":"gyro_y"},{"t":2.194,"v":0.725,"s":"gyro_y"},{"t":2.211,"v":0.53,"s":"gyro_y"},{"t":2.228,"v":0.374,"s":"gyro_y"},{"t":2.245,"v":0.257,"s":"gyro_y"},{"t":2.263,"v":0.14,"s":"gyro_y"},{"t":2.28,"v":0.132,"s":"gyro_y"},{"t":2.297,"v":0.132,"s":"gyro_y"},{"t":2.314,"v":0.1,"s":"gyro_y"},{"t":2.332,"v":-0.016,"s":"gyro_y"},{"t":2.349,"v":-0.17,"s":"gyro_y"},{"t":2.366,"v":0.004,"s":"gyro_y"},{"t":2.383,"v":0.296,"s":"gyro_y"},{"t":2.4,"v":0.57,"s":"gyro_y"},{"t":2.412,"v":0.705,"s":"gyro_y"},{"t":2.426,"v":0.45,"s":"gyro_y"},{"t":2.44,"v":0.1,"s":"gyro_y"},{"t":2.457,"v":-0.17,"s":"gyro_y"},{"t":2.475,"v":0.14,"s":"gyro_y"},{"t":2.492,"v":0.647,"s":"gyro_y"},{"t":2.512,"v":1.056,"s":"gyro_y"},{"t":2.526,"v":0.647,"s":"gyro_y"},{"t":2.543,"v":-0.016,"s":"gyro_y"},{"t":2.561,"v":-0.835,"s":"gyro_y"},{"t":2.578,"v":-0.91,"s":"gyro_y"},{"t":2.595,"v":-0.835,"s":"gyro_y"},{"t":2.612,"v":-0.91,"s":"gyro_y"},{"t":2.63,"v":-0.97,"s":"gyro_y"},{"t":2.647,"v":-0.98,"s":"gyro_y"},{"t":2.664,"v":-0.95,"s":"gyro_y"},{"t":2.681,"v":-0.93,"s":"gyro_y"},{"t":2.698,"v":-1.03,"s":"gyro_y"},{"t":2.716,"v":-1.11,"s":"gyro_y"},{"t":2.733,"v":-0.95,"s":"gyro_y"},{"t":2.75,"v":-0.56,"s":"gyro_y"},{"t":2.767,"v":-0.17,"s":"gyro_y"},{"t":2.785,"v":-0.113,"s":"gyro_y"},{"t":2.802,"v":-0.21,"s":"gyro_y"},{"t":2.819,"v":-0.405,"s":"gyro_y"},{"t":2.836,"v":-0.485,"s":"gyro_y"},{"t":2.854,"v":-0.33,"s":"gyro_y"},{"t":2.871,"v":-0.133,"s":"gyro_y"},{"t":2.888,"v":0.023,"s":"gyro_y"},{"t":2.905,"v":0.12,"s":"gyro_y"},{"t":2.917,"v":0.1,"s":"gyro_y"},{"t":2.928,"v":-0.25,"s":"gyro_y"},{"t":2.943,"v":-0.52,"s":"gyro_y"},{"t":2.957,"v":-0.64,"s":"gyro_y"},{"t":2.972,"v":-0.545,"s":"gyro_y"},
{"t":0,"v":0.042,"s":"gyro_z"},{"t":0.011,"v":0.05,"s":"gyro_z"},{"t":0.028,"v":-0.016,"s":"gyro_z"},{"t":0.046,"v":-0.133,"s":"gyro_z"},{"t":0.063,"v":-0.25,"s":"gyro_z"},{"t":0.08,"v":-0.297,"s":"gyro_z"},{"t":0.097,"v":-0.29,"s":"gyro_z"},{"t":0.115,"v":-0.25,"s":"gyro_z"},{"t":0.132,"v":-0.203,"s":"gyro_z"},{"t":0.149,"v":-0.133,"s":"gyro_z"},{"t":0.166,"v":-0.075,"s":"gyro_z"},{"t":0.183,"v":-0.016,"s":"gyro_z"},{"t":0.201,"v":0.062,"s":"gyro_z"},{"t":0.218,"v":0.218,"s":"gyro_z"},{"t":0.235,"v":0.471,"s":"gyro_z"},{"t":0.252,"v":0.45,"s":"gyro_z"},{"t":0.27,"v":0.257,"s":"gyro_z"},{"t":0.287,"v":0.023,"s":"gyro_z"},{"t":0.304,"v":-0.016,"s":"gyro_z"},{"t":0.321,"v":0.023,"s":"gyro_z"},{"t":0.338,"v":0.218,"s":"gyro_z"},{"t":0.356,"v":0.265,"s":"gyro_z"},{"t":0.373,"v":0.218,"s":"gyro_z"},{"t":0.39,"v":0.132,"s":"gyro_z"},{"t":0.407,"v":0.1,"s":"gyro_z"},{"t":0.425,"v":0.004,"s":"gyro_z"},{"t":0.442,"v":-0.21,"s":"gyro_z"},{"t":0.459,"v":-0.367,"s":"gyro_z"},{"t":0.476,"v":-0.405,"s":"gyro_z"},{"t":0.494,"v":-0.25,"s":"gyro_z"},{"t":0.511,"v":-0.016,"s":"gyro_z"},{"t":0.528,"v":0.14,"s":"gyro_z"},{"t":0.545,"v":0.16,"s":"gyro_z"},{"t":0.562,"v":0.187,"s":"gyro_z"},{"t":0.58,"v":0.199,"s":"gyro_z"},{"t":0.597,"v":0.132,"s":"gyro_z"},{"t":0.614,"v":0.082,"s":"gyro_z"},{"t":0.631,"v":0.054,"s":"gyro_z"},{"t":0.649,"v":0.109,"s":"gyro_z"},{"t":0.666,"v":0.147,"s":"gyro_z"},{"t":0.683,"v":0.1,"s":"gyro_z"},{"t":0.7,"v":-0.035,"s":"gyro_z"},{"t":0.717,"v":-0.19,"s":"gyro_z"},{"t":0.735,"v":-0.33,"s":"gyro_z"},{"t":0.752,"v":-0.386,"s":"gyro_z"},{"t":0.769,"v":-0.29,"s":"gyro_z"},{"t":0.786,"v":-0.19,"s":"gyro_z"},{"t":0.804,"v":-0.15,"s":"gyro_z"},{"t":0.821,"v":-0.19,"s":"gyro_z"},{"t":0.838,"v":-0.33,"s":"gyro_z"},{"t":0.855,"v":-0.444,"s":"gyro_z"},{"t":0.873,"v":-0.52,"s":"gyro_z"},{"t":0.89,"v":-0.56,"s":"gyro_z"},{"t":0.907,"v":-0.66,"s":"gyro_z"},{"t":0.923,"v":-0.4,"s":"gyro_z"},{"t":0.949,"v":0.062,"s":"gyro_z"},{"t":0.97,"v":0.257,"s":"gyro_z"},{"t":0.994,"v":0.374,"s":"gyro_z"},{"t":1.016,"v":0.45,"s":"gyro_z"},{"t":1.039,"v":0.483,"s":"gyro_z"},{"t":1.056,"v":0.45,"s":"gyro_z"},{"t":1.074,"v":0.335,"s":"gyro_z"},{"t":1.091,"v":0.18,"s":"gyro_z"},{"t":1.108,"v":-0.094,"s":"gyro_z"},{"t":1.125,"v":-0.15,"s":"gyro_z"},{"t":1.143,"v":-0.17,"s":"gyro_z"},{"t":1.16,"v":-0.133,"s":"gyro_z"},{"t":1.177,"v":-0.035,"s":"gyro_z"},{"t":1.194,"v":0.042,"s":"gyro_z"},{"t":1.211,"v":0.004,"s":"gyro_z"},{"t":1.229,"v":-0.133,"s":"gyro_z"},{"t":1.246,"v":-0.27,"s":"gyro_z"},{"t":1.263,"v":-0.28,"s":"gyro_z"},{"t":1.28,"v":-0.19,"s":"gyro_z"},{"t":1.297,"v":-0.094,"s":"gyro_z"},{"t":1.315,"v":0.023,"s":"gyro_z"},{"t":1.332,"v":0.296,"s":"gyro_z"},{"t":1.346,"v":0.725,"s":"gyro_z"},{"t":1.357,"v":0.92,"s":"gyro_z"},{"t":1.372,"v":0.725,"s":"gyro_z"},{"t":1.383,"v":0.257,"s":"gyro_z"},{"t":1.394,"v":-0.19,"s":"gyro_z"},{"t":1.411,"v":-0.21,"s":"gyro_z"},{"t":1.428,"v":-0.016,"s":"gyro_z"},{"t":1.44,"v":0.296,"s":"gyro_z"},{"t":1.452,"v":0.5,"s":"gyro_z"},{"t":1.469,"v":0.374,"s":"gyro_z"},{"t":1.486,"v":0.18,"s":"gyro_z"},{"t":1.504,"v":-0.016,"s":"gyro_z"},{"t":1.521,"v":-0.17,"s":"gyro_z"},{"t":1.538,"v":-0.367,"s":"gyro_z"},{"t":1.555,"v":-0.425,"s":"gyro_z"},{"t":1.572,"v":-0.367,"s":"gyro_z"},{"t":1.59,"v":-0.094,"s":"gyro_z"},{"t":1.607,"v":0.14,"s":"gyro_z"},{"t":1.624,"v":0.218,"s":"gyro_z"},{"t":1.641,"v":0.226,"s":"gyro_z"},{"t":1.658,"v":0.257,"s":"gyro_z"},{"t":1.676,"v":0.296,"s":"gyro_z"},{"t":1.693,"v":0.335,"s":"gyro_z"},{"t":1.71,"v":0.265,"s":"gyro_z"},{"t":1.727,"v":0.218,"s":"gyro_z"},{"t":1.745,"v":0.265,"s":"gyro_z"},{"t":1.762,"v":0.335,"s":"gyro_z"},{"t":1.779,"v":0.296,"s":"gyro_z"},{"t":1.796,"v":0.062,"s":"gyro_z"},{"t":1.813,"v":-0.21,"s":"gyro_z"},{"t":1.831,"v":-0.425,"s":"gyro_z"},{"t":1.848,"v":-0.503,"s":"gyro_z"},{"t":1.865,"v":-0.405,"s":"gyro_z"},{"t":1.882,"v":-0.367,"s":"gyro_z"},{"t":1.9,"v":-0.444,"s":"gyro_z"},{"t":1.917,"v":-0.52,"s":"gyro_z"},{"t":1.934,"v":-0.53,"s":"gyro_z"},{"t":1.951,"v":-0.63,"s":"gyro_z"},{"t":1.968,"v":-0.62,"s":"gyro_z"},{"t":1.981,"v":-0.6,"s":"gyro_z"},{"t":1.998,"v":-0.485,"s":"gyro_z"},{"t":2.016,"v":-0.367,"s":"gyro_z"},{"t":2.033,"v":-0.21,"s":"gyro_z"},{"t":2.05,"v":-0.055,"s":"gyro_z"},{"t":2.067,"v":0.062,"s":"gyro_z"},{"t":2.084,"v":0.18,"s":"gyro_z"},{"t":2.102,"v":0.296,"s":"gyro_z"},{"t":2.119,"v":0.374,"s":"gyro_z"},{"t":2.136,"v":0.413,"s":"gyro_z"},{"t":2.153,"v":0.433,"s":"gyro_z"},{"t":2.171,"v":0.296,"s":"gyro_z"},{"t":2.188,"v":0.14,"s":"gyro_z"},{"t":2.205,"v":-0.016,"s":"gyro_z"},{"t":2.222,"v":-0.094,"s":"gyro_z"},{"t":2.239,"v":-0.055,"s":"gyro_z"},{"t":2.257,"v":0.023,"s":"gyro_z"},{"t":2.274,"v":0.042,"s":"gyro_z"},{"t":2.291,"v":0.004,"s":"gyro_z"},{"t":2.308,"v":-0.094,"s":"gyro_z"},{"t":2.326,"v":-0.19,"s":"gyro_z"},{"t":2.343,"v":-0.203,"s":"gyro_z"},{"t":2.36,"v":-0.133,"s":"gyro_z"},{"t":2.377,"v":-0.075,"s":"gyro_z"},{"t":2.394,"v":-0.055,"s":"gyro_z"},{"t":2.412,"v":-0.075,"s":"gyro_z"},{"t":2.429,"v":-0.094,"s":"gyro_z"},{"t":2.44,"v":0.062,"s":"gyro_z"},{"t":2.457,"v":0.374,"s":"gyro_z"},{"t":2.475,"v":0.78,"s":"gyro_z"},{"t":2.487,"v":0.764,"s":"gyro_z"},{"t":2.498,"v":0.45,"s":"gyro_z"},{"t":2.512,"v":0.14,"s":"gyro_z"},{"t":2.526,"v":0.1,"s":"gyro_z"},{"t":2.543,"v":0.199,"s":"gyro_z"},{"t":2.561,"v":0.218,"s":"gyro_z"},{"t":2.578,"v":0.1,"s":"gyro_z"},{"t":2.595,"v":0.062,"s":"gyro_z"},{"t":2.612,"v":0.042,"s":"gyro_z"},{"t":2.63,"v":-0.016,"s":"gyro_z"},{"t":2.647,"v":-0.17,"s":"gyro_z"},{"t":2.664,"v":-0.29,"s":"gyro_z"},{"t":2.681,"v":-0.31,"s":"gyro_z"},{"t":2.698,"v":-0.133,"s":"gyro_z"},{"t":2.716,"v":0.14,"s":"gyro_z"},{"t":2.733,"v":0.296,"s":"gyro_z"},{"t":2.75,"v":0.276,"s":"gyro_z"},{"t":2.767,"v":0.265,"s":"gyro_z"},{"t":2.785,"v":0.296,"s":"gyro_z"},{"t":2.802,"v":0.343,"s":"gyro_z"},{"t":2.819,"v":0.393,"s":"gyro_z"},{"t":2.836,"v":0.421,"s":"gyro_z"},{"t":2.854,"v":0.413,"s":"gyro_z"},{"t":2.871,"v":0.374,"s":"gyro_z"},{"t":2.888,"v":0.257,"s":"gyro_z"},{"t":2.905,"v":0.14,"s":"gyro_z"},{"t":2.922,"v":-0.016,"s":"gyro_z"},{"t":2.94,"v":-0.21,"s":"gyro_z"},{"t":2.957,"v":-0.386,"s":"gyro_z"},{"t":2.974,"v":-0.33,"s":"gyro_z"}
  ]},
  "mark": {"type": "line", "strokeWidth": 1.5},
  "encoding": {
    "x": {"field": "t", "type": "quantitative", "scale": {"domain": [-0.149, 3.129], "nice": false, "zero": false}, "axis": {"title": "Seconds", "values": [0, 1, 2, 3], "format": "d"}},
    "y": {"field": "v", "type": "quantitative", "scale": {"domain": [-1.85, 1.955], "nice": false, "zero": false}, "axis": {"title": "Sample", "values": [-1.5, -1, -0.5, 0, 0.5, 1, 1.5], "format": ".1f"}},
    "color": {"field": "s", "type": "nominal", "scale": {"domain": ["gyro_x", "gyro_y", "gyro_z"], "range": ["#1f77b4", "#ff7f0e", "#2ca02c"]}, "legend": {"title": null}}
  }
}
]
}
